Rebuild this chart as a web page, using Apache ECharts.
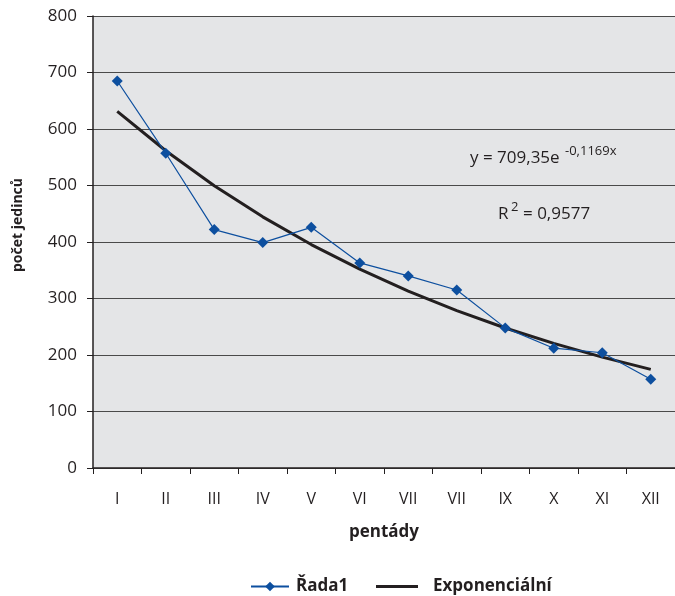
<!DOCTYPE html>
<html>
<head>
<meta charset="utf-8">
<script src="https://cdn.jsdelivr.net/npm/echarts@6/dist/echarts.min.js"></script>
<style>
  html, body { margin: 0; padding: 0; background: #ffffff; }
  #chart { width: 675px; height: 596px; }
</style>
</head>
<body>
<div id="chart"></div>
<script>
// Pentády (five-day periods) along the x axis
const categories = ['I', 'II', 'III', 'IV', 'V', 'VI', 'VII', 'VII', 'IX', 'X', 'XI', 'XII'];
// Observed counts
const rada1 = [685, 557, 422, 399, 426, 363, 340, 315, 248, 212, 204, 157];
// Exponential trend y = 709,35e^(-0,1169x) at x = 1..12
const trend = [631.1, 561.5, 499.6, 444.5, 395.5, 351.9, 313.1, 278.5, 247.8, 220.5, 196.2, 174.6];
const yTicks = [0, 100, 200, 300, 400, 500, 600, 700, 800];

const FONT = '"Open Sans", "Noto Sans", sans-serif';
const TEXT = '#231f20';
const BLUE = '#0d4f9f';

const legendText = { fontFamily: FONT, fontSize: 17, fontWeight: 'bold', color: TEXT };

const chart = echarts.init(document.getElementById('chart'), null, { renderer: 'canvas' });

chart.setOption({
  animation: false,
  textStyle: { fontFamily: FONT, color: TEXT },
  grid: {
    left: 93, top: 16, right: -4, bottom: 128,
    show: true, backgroundColor: '#e4e5e7', borderWidth: 0
  },
  xAxis: {
    type: 'category',
    data: categories,
    boundaryGap: true,
    name: 'pentády',
    nameLocation: 'middle',
    nameGap: 56,
    nameTextStyle: { fontFamily: FONT, fontSize: 17, fontWeight: 'bold', color: TEXT },
    axisLine: { lineStyle: { color: TEXT, width: 1.5 } },
    axisTick: { show: true, length: 6, alignWithLabel: false, lineStyle: { color: TEXT, width: 1 } },
    axisLabel: { margin: 23, fontFamily: FONT, fontSize: 16, color: TEXT, interval: 0 },
    splitLine: { show: false }
  },
  yAxis: {
    type: 'value',
    min: yTicks[0],
    max: yTicks[yTicks.length - 1],
    interval: 100,
    axisLine: { show: true, lineStyle: { color: TEXT, width: 1.5 } },
    axisTick: { show: true, length: 6, lineStyle: { color: TEXT, width: 1 } },
    axisLabel: { margin: 16, fontFamily: FONT, fontSize: 17, color: TEXT },
    splitLine: { show: true, lineStyle: { color: '#4a4a4a', width: 1 } }
  },
  legend: [
    {
      left: 245,
      top: 573,
      itemWidth: 38,
      itemHeight: 12,
      textStyle: Object.assign({ padding: [0, 0, 0, 2] }, legendText),
      data: ['Řada1']
    },
    {
      left: 371,
      top: 573,
      itemWidth: 42,
      itemHeight: 12,
      textStyle: Object.assign({ padding: [0, 0, 0, 10] }, legendText),
      data: [{ name: 'Exponenciální', icon: 'path://M0,0H40V3H0Z' }]
    }
  ],
  series: [
    {
      name: 'Řada1',
      type: 'line',
      data: rada1,
      symbol: 'diamond',
      symbolSize: 11,
      lineStyle: { color: BLUE, width: 1.2 },
      itemStyle: { color: BLUE },
      z: 3
    },
    {
      name: 'Exponenciální',
      type: 'line',
      data: trend,
      symbol: 'none',
      lineStyle: { color: TEXT, width: 3 },
      itemStyle: { color: TEXT },
      z: 2
    }
  ],
  graphic: [
    {
      type: 'text', left: 11, top: 178, rotation: Math.PI / 2,
      style: { text: 'počet jedinců', font: 'bold 14px ' + FONT, fill: TEXT }
    },
    {
      type: 'text', left: 470, top: 150,
      style: { text: 'y = 709,35e', font: '17px ' + FONT, fill: TEXT }
    },
    {
      type: 'text', left: 565, top: 145,
      style: { text: '-0,1169x', font: '13px ' + FONT, fill: TEXT }
    },
    {
      type: 'text', left: 498, top: 206,
      style: { text: 'R', font: '17px ' + FONT, fill: TEXT }
    },
    {
      type: 'text', left: 511, top: 201,
      style: { text: '2', font: '13px ' + FONT, fill: TEXT }
    },
    {
      type: 'text', left: 523, top: 206,
      style: { text: '= 0,9577', font: '17px ' + FONT, fill: TEXT }
    }
  ]
});
</script>
</body>
</html>
